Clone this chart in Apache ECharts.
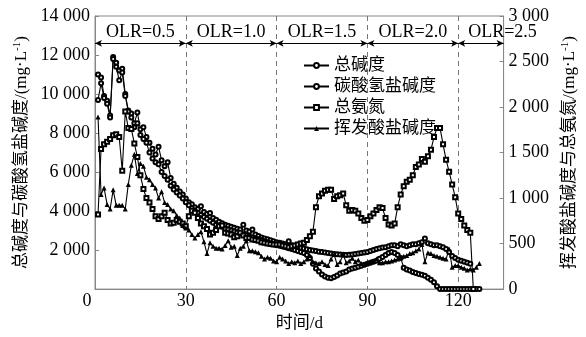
<!DOCTYPE html>
<html>
<head>
<meta charset="utf-8">
<script src="https://cdn.jsdelivr.net/npm/echarts@6/dist/echarts.min.js"></script>
<style>
  html, body { margin: 0; padding: 0; background: #fff; }
  #chart { width: 586px; height: 337px; }
</style>
</head>
<body>
<div id="chart"></div>
<script>
// 时间/d
const days = [
  1, 2, 3, 4, 5, 6, 7, 8, 9, 10,
  11, 12, 13, 14, 15, 16, 17, 18, 19, 20,
  21, 22, 23, 24, 25, 26, 27, 28, 29, 30,
  31, 32, 33, 34, 35, 36, 37, 38, 39, 40,
  41, 42, 43, 44, 45, 46, 47, 48, 49, 50,
  51, 52, 53, 54, 55, 56, 57, 58, 59, 60,
  61, 62, 63, 64, 65, 66, 67, 68, 69, 70,
  71, 72, 73, 74, 75, 76, 77, 78, 79, 80,
  81, 82, 83, 84, 85, 86, 87, 88, 89, 90,
  91, 92, 93, 94, 95, 96, 97, 98, 99, 100,
  101, 102, 103, 104, 105, 106, 107, 108, 109, 110,
  111, 112, 113, 114, 115, 116, 117, 118, 119, 120,
  121, 122, 123, 124, 125, 126, 127
]

// 总碱度 (左轴)
const totalAlk = [
  11000, 10850, 9900, 9650, 8900, 11900, 11600, 11200, 11300, 10000,
  9150, 9000, 8500, 9050, 8200, 8300, 7800, 7500, 7200, 6900,
  7300, 6600, 6300, 6500, 5700, 5400, 5200, 5000, 4850, 4650,
  4450, 4350, 4200, 4100, 4250, 3950, 3850, 3900, 3650, 3550,
  3450, 3380, 3300, 3250, 3200, 3150, 3100, 3050, 3300, 3000,
  2950, 3050, 2800, 2720, 2650, 2600, 2550, 2500, 2450, 2400,
  2380, 2340, 2300, 2450, 2250, 2200, 2150, 2120, 2080, 2040,
  2000, 1980, 1950, 1920, 1900, 1880, 1850, 1830, 1800, 1790,
  1780, 1760, 1750, 1760, 1780, 1800, 1820, 1850, 1880, 1900,
  1950, 2000, 2050, 2100, 2130, 2150, 2200, 2250, 2250, 2200,
  2300, 2250, 2200, 2250, 2300, 2300, 2350, 2400, 2600, 2350,
  2300, 2250, 2250, 2200, 2150, 2050, 1900, 1700, 1600, 1500,
  1450, 1400, 1350, 1300, null, null, null
]

// 碳酸氢盐碱度 (左轴)
const bicarbAlk = [
  9700, 10550, 9800, 9500, 8800, 11800, 11400, 10700, 11100, 9900,
  9100, 8800, 8300, 8500, 7900, 7700, 7500, 7000, 6700, 6500,
  6400, 6000, 5800, 5600, 5300, 5100, 4950, 4800, 4650, 4450,
  4300, 4150, 4000, 3900, 3800, 3700, 3600, 3500, 3400, 3300,
  3250, 3200, 3100, 3050, 3000, 2950, 2900, 2850, 2800, 2750,
  2700, 2650, 2600, 2550, 2500, 2450, 2400, 2350, 2300, 2250,
  2220, 2180, 2150, 2100, 2050, 2000, 1950, 1900, 1850, 1750,
  1600, 1300, 1050, 900, 750, 650, 580, 560, 620, 700,
  800, 850, 900, 1000, 1060, 1100, 1150, 1200, 1250, 1300,
  1350, 1400, 1450, 1550, 1650, 1750, 1850, 1900, 1850, 1750,
  1600, 1100, 1000, 950, 880, 820, 780, 730, 680, 580,
  480, 350, 150, 0, 0, 0, 0, 0, 0, 0,
  0, 0, 0, 0, 0, 0, 0
]

// 总氨氮 (右轴)
const ammonia = [
  820, 1540, 1590, 1620, 1650, 1690, 1700, 1670, 1300, 1950,
  1770, 1760, 1600, 1450, 1250, 1100, 1000, 950, 880, 800,
  770, 800, 840, 760, 720, 730, 760, 740, 720, 690,
  800, 860, 840, 780, 720, 690, 660, 600, 620, 650,
  690, 700, 620, 610, 600, 570, 580, 620, 590, 560,
  560, 545, 540, 530, 515, 510, 500, 495, 490, 490,
  490, 480, 470, 460, 470, 480, 490, 500, 510, 540,
  580, 630, 900, 1020, 1050, 1080, 1090, 1090, 990, 1020,
  1030, 1050, 920, 860, 870, 860, 830, 780, 750, 760,
  800, 830, 870, 900, 890, 780, 710, 700, 720, 900,
  1040, 1130, 1180, 1200, 1250, 1340, 1370, 1430, 1400, 1460,
  1530, 1670, 1770, 1770, 1590, 1420, 1290, 1150, 1010, 830,
  770, 700, 650, 620, 0, null, null
]

// 挥发酸盐碱度 (右轴)
const vfaAlk = [
  1890, 1040, 1110, 930, 880, 1090, 920, 920, 920, 880,
  1150, 1360, 1480, 1270, 1380, 1350, 1230, 1200, 1150, 1110,
  1000, 1070, 950, 930, 880, 860, 810, 780, 700, 670,
  650, 600, 560, 600, 630, 520, 390, 510, 470, 450,
  450, 440, 480, 530, 460, 470, 370, 450, 470, 530,
  420, 420, 410, 400, 360, 330, 350, 340, 310, 300,
  350, 330, 310, 280, 300, 290, 310, 280, 300, 330,
  370, 300, 290, 280, 300, 270, 260, 330, 380, 270,
  300, 380, 290, 310, 340, 300, 320, 280, 270, 290,
  300, 310, 330, 290, 290, 300, 300, 310, 320, 330,
  350, 360, 370, 390, 400, 420, 440, 490, 300, 400,
  390, 370, 360, 350, 340, 330, 440, 240, 260, 260,
  240, 230, 210, 220, 210, 240, 280
]

// 阶段划分
const olrLabels = ['OLR=0.5', 'OLR=1.0', 'OLR=1.5', 'OLR=2.0', 'OLR=2.5']
const olrBounds = [0, 30, 60, 90, 120, 135]
const olrLevel = 12600

const FONT = '"Liberation Serif", "Noto Sans CJK SC", serif'

const pairs = vals => days.map((d, i) => [d, vals[i]])

const thousands = v => {
  if (v >= 1000) {
    const r = v % 1000
    return Math.floor(v / 1000) + ' ' + String(r).padStart(3, '0')
  }
  return String(v)
}

const olrMarks = olrLabels.map((txt, i) => {
  const last = i === olrLabels.length - 1
  return [
    {
      coord: [olrBounds[i], olrLevel],
      label: {
        show: true,
        formatter: txt,
        position: last ? 'insideStartTop' : 'insideMiddleTop',
        distance: last ? [10, 2] : 2,
        color: '#000',
        fontFamily: FONT,
        fontSize: 18
      }
    },
    { coord: [olrBounds[i + 1], olrLevel] }
  ]
})

const chart = echarts.init(document.getElementById('chart'))

const baseSeries = {
  type: 'line',
  symbolSize: 4,
  lineStyle: { color: '#000', width: 1.1 },
  itemStyle: { color: '#000', borderWidth: 1 },
  emphasis: { disabled: true },
  connectNulls: false,
  animation: false
}

const option = {
  animation: false,
  textStyle: { fontFamily: FONT },
  grid: {
    left: 95, right: 71, top: 16, bottom: 39,
    show: true, borderColor: '#888', borderWidth: 1
  },
  legend: {
    orient: 'vertical',
    left: 298,
    top: 52,
    itemWidth: 25,
    itemHeight: 6,
    itemGap: 4,
    textStyle: { fontSize: 17, color: '#000', fontFamily: FONT },
    data: ['总碱度', '碳酸氢盐碱度', '总氨氮', '挥发酸盐碱度']
  },
  xAxis: {
    type: 'value',
    min: 0,
    max: 135,
    interval: 30,
    name: '时间/d',
    nameLocation: 'middle',
    nameGap: 23,
    nameTextStyle: { fontSize: 17, color: '#000', fontFamily: FONT },
    axisLine: { lineStyle: { color: '#888' } },
    axisTick: { show: false },
    axisLabel: {
      margin: 3,
      fontSize: 18,
      color: '#000',
      fontFamily: FONT,
      showMaxLabel: false,
      formatter: v => (v % 30 === 0 ? (v === 0 ? '{o|0}' : String(v)) : ''),
      rich: { o: { fontSize: 18, fontFamily: FONT, color: '#000', padding: [0, 16, 0, 0] } }
    },
    splitLine: {
      show: true,
      showMinLine: false,
      showMaxLine: false,
      lineStyle: { color: '#777', type: [5, 4], width: 1 }
    }
  },
  yAxis: [
    {
      type: 'value',
      min: 0,
      max: 14000,
      interval: 2000,
      name: '总碱度与碳酸氢盐碱度/(mg·L{sup|-1})',
      nameLocation: 'middle',
      nameGap: 64,
      nameRotate: 90,
      nameTextStyle: {
        fontSize: 17, color: '#000', fontFamily: FONT,
        rich: { sup: { fontSize: 11, fontFamily: FONT, color: '#000', padding: [0, 0, 8, 0] } }
      },
      axisLine: { show: true, lineStyle: { color: '#888' } },
      axisTick: { show: true, inside: true, length: 4, lineStyle: { color: '#888' } },
      axisLabel: {
        margin: 5, fontSize: 18, color: '#000', fontFamily: FONT,
        formatter: v => (v === 0 ? '' : thousands(v))
      },
      splitLine: { show: false }
    },
    {
      type: 'value',
      min: 0,
      max: 3000,
      interval: 500,
      position: 'right',
      name: '挥发酸盐碱度与总氨氮/(mg·L{sup|-1})',
      nameLocation: 'middle',
      nameGap: 51,
      nameRotate: 90,
      nameTextStyle: {
        fontSize: 17, color: '#000', fontFamily: FONT,
        rich: { sup: { fontSize: 11, fontFamily: FONT, color: '#000', padding: [0, 0, 8, 0] } }
      },
      axisLine: { show: true, lineStyle: { color: '#888' } },
      axisTick: { show: true, inside: true, length: 4, lineStyle: { color: '#888' } },
      axisLabel: {
        margin: 5, fontSize: 18, color: '#000', fontFamily: FONT,
        formatter: thousands
      },
      splitLine: { show: false }
    }
  ],
  series: [
    Object.assign({}, baseSeries, {
      name: '总碱度',
      yAxisIndex: 0,
      symbol: 'emptyCircle',
      data: pairs(totalAlk),
      markLine: {
        silent: true,
        animation: false,
        symbol: ['arrow', 'arrow'],
        symbolSize: [5, 7],
        lineStyle: { color: '#000', type: 'solid', width: 1 },
        emphasis: { disabled: true },
        data: olrMarks
      }
    }),
    Object.assign({}, baseSeries, {
      name: '碳酸氢盐碱度',
      yAxisIndex: 0,
      symbol: 'emptyCircle',
      data: pairs(bicarbAlk)
    }),
    Object.assign({}, baseSeries, {
      name: '总氨氮',
      yAxisIndex: 1,
      symbol: 'emptyRect',
      data: pairs(ammonia)
    }),
    Object.assign({}, baseSeries, {
      name: '挥发酸盐碱度',
      yAxisIndex: 1,
      symbol: 'triangle',
      symbolSize: 5,
      data: pairs(vfaAlk)
    })
  ]
}

chart.setOption(option)
</script>
</body>
</html>
